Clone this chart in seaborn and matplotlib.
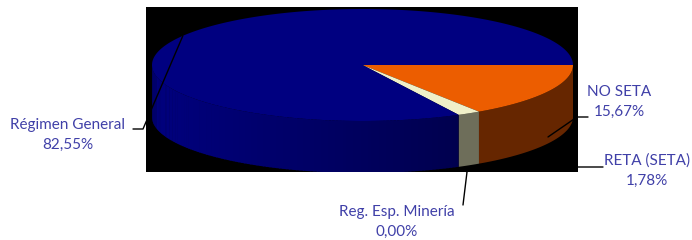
import numpy as np
import matplotlib
matplotlib.use("Agg")
import matplotlib.pyplot as plt
from matplotlib.patches import Polygon
import seaborn as sns

# data
labels = ["NO SETA", "RETA (SETA)", "Reg. Esp. Minería", "Régimen General"]
values = [15.67, 1.78, 0.00, 82.55]
pct_labels = ["15,67%", "1,78%", "0,00%", "82,55%"]

top_colors = ["#EC5D00", "#F0F0C8", "#9999FF", "#000080"]
side_colors = ["#662600", "#6E6E5A", "#555588", "#000070"]

sns.set_style("white")
plt.rcParams["font.family"] = ["Lato", "DejaVu Sans"]

W, H = 692, 240
fig = plt.figure(figsize=(W / 100, H / 100), dpi=100)

# black plot area (pixel units, origin at pie centre, y up)
cx, cy = 362.5, 65.0
ax = fig.add_axes([146 / W, 1 - 172 / H, 432 / W, 165 / H])
ax.set_facecolor("black")
ax.set_xlim(146 - cx, 578 - cx)
ax.set_ylim(cy - 172, cy - 7)
ax.set_xticks([])
ax.set_yticks([])
for s in ax.spines.values():
    s.set_visible(False)

a, b, depth = 210.5, 56.0, 52.0


def pt(t, drop=0.0):
    r = np.radians(t)
    return np.cos(r) * a, -np.sin(r) * b - drop


# angles go clockwise on screen starting at the right
ends = np.cumsum(values) / np.sum(values) * 360
starts = np.concatenate([[0], ends[:-1]])

# side walls (front half only)
for i, (t1, t2) in enumerate(zip(starts, ends)):
    lo, hi = max(t1, 0), min(t2, 180)
    if hi <= lo:
        continue
    if i == 3:
        # blue wall shaded darker towards the right
        edges = np.linspace(lo, hi, 120)
        for e1, e2 in zip(edges[:-1], edges[1:]):
            ts = np.linspace(e1, e2 + 0.3, 4)
            xt, yt = pt(ts)
            xb, yb = pt(ts[::-1], depth)
            xm = np.mean(xt)
            f = np.clip((xm + a) / (a + 110), 0, 1)
            shade = 0x7E - f * (0x7E - 0x4C)
            col = (0, 0, shade / 255)
            ax.add_patch(Polygon(np.column_stack([np.r_[xt, xb], np.r_[yt, yb]]),
                                 closed=True, fc=col, ec="none", zorder=1))
    else:
        ts = np.linspace(lo, hi, 60)
        xt, yt = pt(ts)
        xb, yb = pt(ts[::-1], depth)
        ax.add_patch(Polygon(np.column_stack([np.r_[xt, xb], np.r_[yt, yb]]),
                             closed=True, fc=side_colors[i], ec="none", zorder=1))

# top faces
for i, (t1, t2) in enumerate(zip(starts, ends)):
    if t2 - t1 <= 0:
        continue
    ts = np.linspace(t1, t2, 200)
    xt, yt = pt(ts)
    ax.add_patch(Polygon(np.column_stack([np.r_[0, xt], np.r_[0, yt]]),
                         closed=True, fc=top_colors[i], ec="none", zorder=2))

# labels: text centre (px), leader start, elbow, drop of anchor, line in front?
text_color = "#4040A8"
layout = {
    "NO SETA": dict(x=619, y=92, start=(588, 117), elbow=(577, 117), drop=0.875, front=True),
    "RETA (SETA)": dict(x=647, y=161, start=(603, 167), elbow=(578, 167), drop=1.0, front=False),
    "Reg. Esp. Minería": dict(x=397, y=212, start=(463, 205), elbow=(467, 172), drop=1.0, front=False),
    "Régimen General": dict(x=68, y=125, start=(133, 129), elbow=(143, 129), drop=0.0, front=True),
}


def to_data(px, py):
    return px - cx, cy - py


for i, lab in enumerate(labels):
    L = layout[lab]
    tx, ty = to_data(L["x"], L["y"])
    ax.text(tx, ty, lab, ha="center", va="center", color=text_color,
            fontsize=11, clip_on=False, zorder=5)
    ax.text(tx, ty - 20, pct_labels[i], ha="center", va="center",
            color=text_color, fontsize=11, clip_on=False, zorder=5)
    mid = (starts[i] + ends[i]) / 2
    axp, ayp = pt(mid, L["drop"] * depth)
    sx, sy = to_data(*L["start"])
    ex, ey = to_data(*L["elbow"])
    ax.plot([sx, ex, axp], [sy, ey, ayp], color="black", lw=1,
            clip_on=False, zorder=4 if L["front"] else 0.5)

fig.savefig("out.png", dpi=100, facecolor="white")
